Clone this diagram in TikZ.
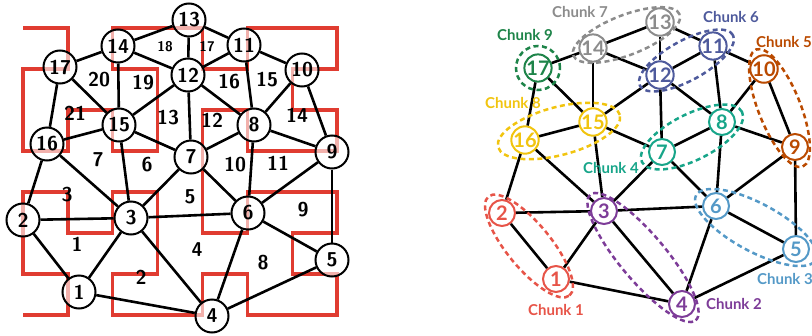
\documentclass[tikz,border=0pt]{standalone}
\usepackage{fontspec}
\newfontfamily\latofont{Lato}
\usetikzlibrary{shapes.geometric}
\definecolor{hilb}{RGB}{224,60,49}
\definecolor{cA}{RGB}{231,84,72}
\definecolor{cB}{RGB}{125,60,152}
\definecolor{cC}{RGB}{84,153,199}
\definecolor{cD}{RGB}{23,165,137}
\definecolor{cE}{RGB}{186,74,0}
\definecolor{cF}{RGB}{78,90,156}
\definecolor{cG}{RGB}{140,140,140}
\definecolor{cH}{RGB}{241,196,15}
\definecolor{cI}{RGB}{30,132,73}
\begin{document}
\begin{tikzpicture}[x=1pt,y=-1pt,
  lnode/.style={circle, draw=black, line width=2pt, fill=white, fill opacity=0.6, text opacity=1,
    minimum size=33pt, inner sep=0pt, font=\sffamily\bfseries\fontsize{20}{20}\selectfont},
  flabel/.style={inner sep=0pt, font=\sffamily\bfseries\fontsize{20}{20}\selectfont},
  fsmall/.style={inner sep=0pt, font=\sffamily\bfseries\fontsize{14}{14}\selectfont},
  rnode/.style={circle, draw=#1, text=#1, line width=2pt, fill=white,
    minimum size=26pt, inner sep=0pt, font=\latofont\bfseries\fontsize{20}{20}\selectfont},
  clabel/.style={inner sep=0pt, text=#1, font=\latofont\bfseries\fontsize{15}{15}\selectfont},
  edgeline/.style={line width=2.6pt, black},
  chunk/.style={draw=#1, line width=2.5pt, dash pattern=on 5pt off 3.5pt, ellipse, inner sep=0pt},
  hilbline/.style={draw=hilb, line width=3.3pt, line join=miter}
]
\useasboundingbox (0,0) rectangle (812,335);

% Hilbert curve
\begin{scope}[shift={(23,28)}, x=44.86pt, y=-41pt]
\draw[hilbline] (0,0)--(1,0)--(1,1)--(0,1)--(0,2)--(0,3)--(1,3)--(1,2)--(2,2)--(2,3)--(3,3)--(3,2)--(3,1)--(2,1)--(2,0)--(3,0)
 --(4,0)--(4,1)--(5,1)--(5,0)--(6,0)--(7,0)--(7,1)--(6,1)--(6,2)--(7,2)--(7,3)--(6,3)--(5,3)--(5,2)--(4,2)--(4,3)
 --(4,4)--(4,5)--(5,5)--(5,4)--(6,4)--(7,4)--(7,5)--(6,5)--(6,6)--(7,6)--(7,7)--(6,7)--(5,7)--(5,6)--(4,6)--(4,7)
 --(3,7)--(2,7)--(2,6)--(3,6)--(3,5)--(3,4)--(2,4)--(2,5)--(1,5)--(1,4)--(0,4)--(0,5)--(0,6)--(1,6)--(1,7)--(0,7);
\end{scope}

% left graph nodes
\node[lnode] (L13) at (189,20) {13};
\node[lnode] (L14) at (118,46) {14};
\node[lnode] (L11) at (244,45) {11};
\node[lnode] (L17) at (60,67) {17};
\node[lnode] (L12) at (188,75) {12};
\node[lnode] (L10) at (302,70) {10};
\node[lnode] (L15) at (119,125) {15};
\node[lnode] (L8) at (254,125) {8};
\node[lnode] (L16) at (47,144) {16};
\node[lnode] (L7) at (191,157) {7};
\node[lnode] (L9) at (332,152) {9};
\node[lnode] (L2) at (23,220) {2};
\node[lnode] (L3) at (131,218) {3};
\node[lnode] (L6) at (248,213) {6};
\node[lnode] (L5) at (332,260) {5};
\node[lnode] (L1) at (79,292) {1};
\node[lnode] (L4) at (212,316) {4};

\foreach \a/\b in {17/14,17/15,17/16,14/13,14/12,14/15,13/12,13/11,12/11,12/15,12/8,12/7,11/8,11/10,10/8,10/9,8/9,8/7,8/6,15/16,15/7,15/3,16/2,16/3,7/3,7/6,2/3,2/1,3/1,3/6,3/4,6/9,6/5,6/4,9/5,5/4,1/4}
  \draw[edgeline] (L\a) -- (L\b);

% face labels
\node[flabel] (f21) at (75,113) {21};
\node[flabel] (f20) at (99,80) {20};
\node[flabel] (f19) at (143,83) {19};
\node[fsmall] (f18) at (165,47) {18};
\node[fsmall] (f17) at (207,47) {17};
\node[flabel] (f16) at (229,82) {16};
\node[flabel] (f15) at (267,80) {15};
\node[flabel] (f14) at (297,115) {14};
\node[flabel] (f13) at (168,118) {13};
\node[flabel] (f12) at (212,120) {12};
\node[flabel] (f11) at (278,163) {11};
\node[flabel] (f10) at (235,165) {10};
\node[flabel] (f7) at (98,160) {7};
\node[flabel] (f6) at (147,165) {6};
\node[flabel] (f5) at (190,197) {5};
\node[flabel] (f3) at (67,195) {3};
\node[flabel] (f9) at (303,210) {9};
\node[flabel] (f1) at (77,244) {1};
\node[flabel] (f4) at (197,250) {4};
\node[flabel] (f8) at (263,263) {8};
\node[flabel] (f2) at (141,277) {2};

% right graph nodes
\node[rnode=cG] (R13) at (660,22) {13};
\node[rnode=cG] (R14) at (593,48) {14};
\node[rnode=cF] (R11) at (713,46) {11};
\node[rnode=cI] (R17) at (538,68) {17};
\node[rnode=cF] (R12) at (660,75) {12};
\node[rnode=cE] (R10) at (764,69) {10};
\node[rnode=cH] (R15) at (593,122) {15};
\node[rnode=cD] (R8) at (722,122) {8};
\node[rnode=cH] (R16) at (525,140) {16};
\node[rnode=cD] (R7) at (662,152) {7};
\node[rnode=cE] (R9) at (795,147) {9};
\node[rnode=cA] (R2) at (502,213) {2};
\node[rnode=cB] (R3) at (604,211) {3};
\node[rnode=cC] (R6) at (716,206) {6};
\node[rnode=cC] (R5) at (796,249) {5};
\node[rnode=cA] (R1) at (556,279) {1};
\node[rnode=cB] (R4) at (682,304) {4};

\foreach \a/\b in {17/14,17/15,17/16,14/13,14/12,14/15,13/12,13/11,12/11,12/15,12/8,12/7,11/8,11/10,10/8,10/9,8/9,8/7,8/6,15/16,15/7,15/3,16/2,16/3,7/3,7/6,2/3,2/1,3/1,3/6,3/4,6/9,6/5,6/4,9/5,5/4,1/4}
  \draw[edgeline] (R\a) -- (R\b);

% chunks
\node[chunk=cA, minimum width=128pt, minimum height=44pt, rotate=-50.7] (k1) at (529,246) {};
\node[chunk=cB, minimum width=164pt, minimum height=46pt, rotate=-50] (k2) at (643,257.5) {};
\node[chunk=cC, minimum width=136pt, minimum height=48pt, rotate=-28.3] (k3) at (756,227.5) {};
\node[chunk=cD, minimum width=112pt, minimum height=46pt, rotate=26.6] (k4) at (692,137) {};
\node[chunk=cE, minimum width=126pt, minimum height=42pt, rotate=-68.3] (k5) at (779.5,108) {};
\node[chunk=cF, minimum width=106pt, minimum height=40pt, rotate=28.7] (k6) at (686.5,60.5) {};
\node[chunk=cG, minimum width=114pt, minimum height=40pt, rotate=21.2] (k7) at (626.5,35) {};
\node[chunk=cH, minimum width=126pt, minimum height=48pt, rotate=14.8] (k8) at (559,131) {};
\node[chunk=cI, circle, minimum size=44pt] (k9) at (538,68) {};

\node[clabel=cA] (t1) at (556,310) {Chunk 1};
\node[clabel=cB] (t2) at (734,304) {Chunk 2};
\node[clabel=cC] (t3) at (785,279) {Chunk 3};
\node[clabel=cD] (t4) at (611,168) {Chunk 4};
\node[clabel=cE] (t5) at (784,42) {Chunk 5};
\node[clabel=cF] (t6) at (731,17) {Chunk 6};
\node[clabel=cG] (t7) at (580,12) {Chunk 7};
\node[clabel=cH] (t8) at (513,103) {Chunk 8};
\node[clabel=cI] (t9) at (525,35) {Chunk 9};
\end{tikzpicture}
\end{document}
